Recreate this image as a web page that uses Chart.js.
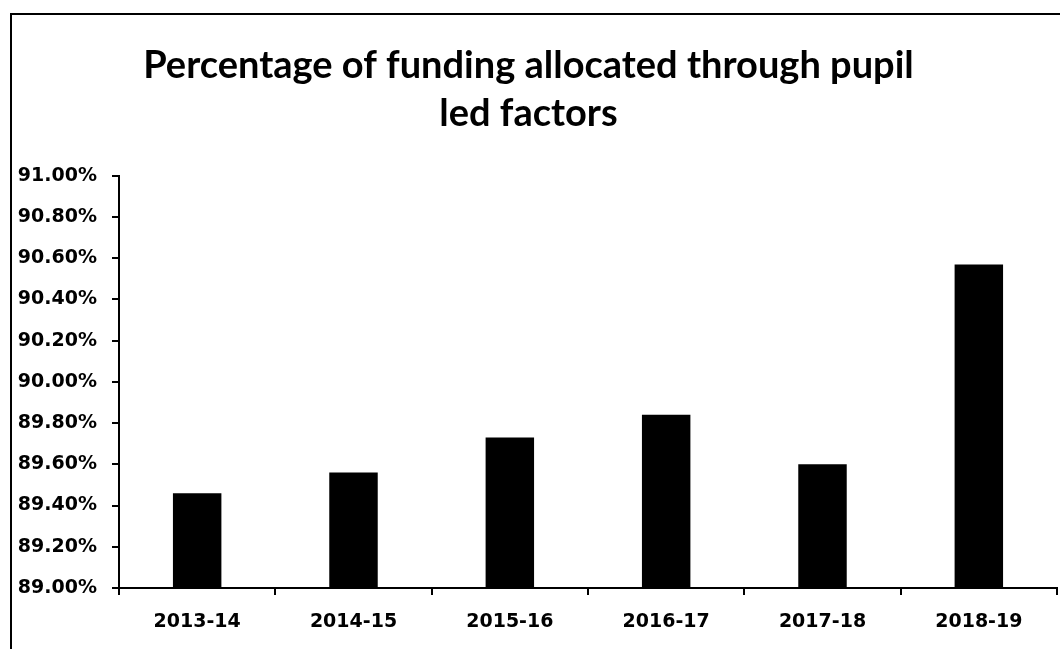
<!DOCTYPE html>
<html>
<head>
<meta charset="utf-8">
<script src="https://cdn.jsdelivr.net/npm/chart.js@4/dist/chart.umd.min.js"></script>
<style>
  html, body { margin: 0; padding: 0; background: #fff; }
  #wrap { position: relative; width: 1060px; height: 649px; overflow: hidden; }
  #frame { position: absolute; left: 10px; top: 13px; width: 1060px; height: 660px; border: 2px solid #000; box-sizing: border-box; }
  #grafico { position: absolute; left: 0; top: 0; }
</style>
</head>
<body>
<div id="wrap">
  <div id="frame"></div>
  <canvas id="grafico" width="1060" height="649"></canvas>
</div>
<script>
// dados
var anos = ["2013-14", "2014-15", "2015-16", "2016-17", "2017-18", "2018-19"];
var percentual = [89.46, 89.56, 89.73, 89.84, 89.60, 90.57];
var tituloLinhas = ["Percentage of funding allocated through pupil", "led factors"];
var eixoMin = 89.00;
var eixoMax = 91.00;
var eixoPasso = 0.20;

function montarGrafico() {
    new Chart(document.getElementById("grafico"), {
        type: 'bar',
        data: {
            labels: anos,
            datasets: [
                {
                    label: "Percentage",
                    backgroundColor: "#000000",
                    borderWidth: 0,
                    barPercentage: 0.31,
                    categoryPercentage: 1.0,
                    data: percentual
                }
            ]
        },
        options: {
            responsive: false,
            animation: false,
            layout: {
                padding: { left: 0, right: 3, top: 14, bottom: 0 }
            },
            plugins: {
                legend: { display: false },
                tooltip: { enabled: false },
                title: {
                    display: true,
                    text: tituloLinhas,
                    color: '#000',
                    font: { family: 'Lato', size: 38, weight: 'bold', lineHeight: 1.26 },
                    padding: { top: 28, bottom: 38 }
                }
            },
            scales: {
                x: {
                    grid: {
                        offset: true,
                        drawOnChartArea: false,
                        drawTicks: true,
                        tickLength: 7,
                        color: '#000',
                        lineWidth: 2
                    },
                    border: { display: true, color: '#000', width: 2 },
                    ticks: {
                        color: '#000',
                        padding: 16,
                        font: { family: 'DejaVu Sans', size: 19, weight: 'bold' }
                    },
                    afterFit: function (scale) { scale.height = 649 - 588; }
                },
                y: {
                    min: eixoMin,
                    max: eixoMax,
                    grid: {
                        drawOnChartArea: false,
                        drawTicks: true,
                        tickLength: 7,
                        color: '#000',
                        lineWidth: 2
                    },
                    border: { display: true, color: '#000', width: 2 },
                    ticks: {
                        stepSize: eixoPasso,
                        color: '#000',
                        padding: 15,
                        font: { family: 'DejaVu Sans', size: 19, weight: 'bold' },
                        callback: function (v) { return Number(v).toFixed(2) + '%'; }
                    },
                    afterFit: function (scale) { scale.width = 119; }
                }
            }
        }
    });
}

montarGrafico();
</script>
</body>
</html>
